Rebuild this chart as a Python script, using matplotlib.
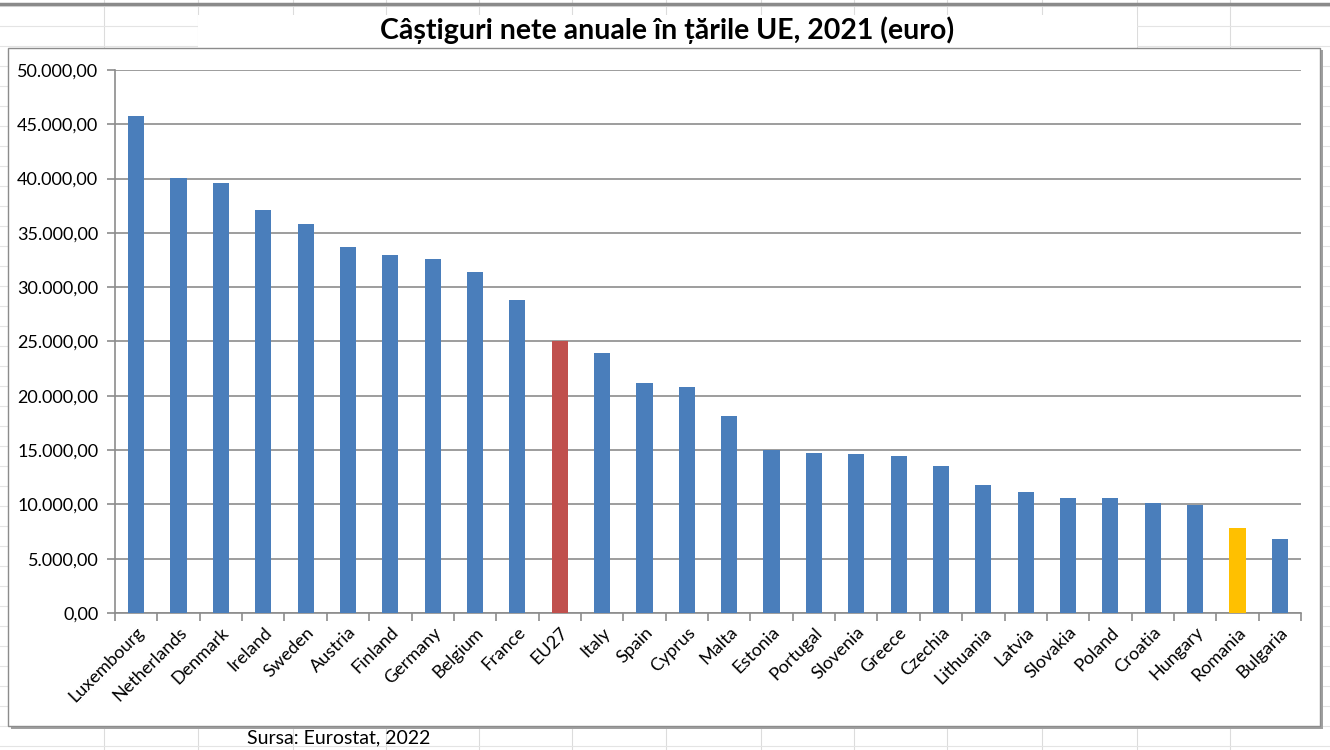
import matplotlib.pyplot as plt
from matplotlib.ticker import FuncFormatter, MultipleLocator
from matplotlib.lines import Line2D
from matplotlib.patches import Rectangle

plt.rcParams['font.family'] = ['Lato', 'DejaVu Sans']

tari = ['Luxembourg', 'Netherlands', 'Denmark', 'Ireland', 'Sweden', 'Austria',
        'Finland', 'Germany', 'Belgium', 'France', 'EU27', 'Italy', 'Spain',
        'Cyprus', 'Malta', 'Estonia', 'Portugal', 'Slovenia', 'Greece', 'Czechia',
        'Lithuania', 'Latvia', 'Slovakia', 'Poland', 'Croatia', 'Hungary',
        'Romania', 'Bulgaria']
castiguri = [45720, 40020, 39630, 37080, 35850, 33670, 33000, 32600, 31370, 28840,
             25000, 23930, 21220, 20790, 18150, 15000, 14750, 14630, 14500, 13580,
             11800, 11100, 10560, 10560, 10150, 9930, 7840, 6770]

albastru = '#4a7ebb'
culori = []
for t in tari:
    if t == 'EU27':
        culori.append('#c0504d')
    elif t == 'Romania':
        culori.append('#ffc000')
    else:
        culori.append(albastru)

fig = plt.figure(figsize=(13.3, 7.5), dpi=100)
W, H = 1330, 750

# fundalul de foaie de calcul
for x in [104, 198, 293, 386, 479, 572, 666, 761, 854, 947, 1042, 1137, 1230]:
    fig.add_artist(Line2D([x / W, x / W], [0, 1], color='#dcdcdc', lw=0.8, zorder=0))
for y in range(6, 750, 20):
    fig.add_artist(Line2D([0, 1], [1 - y / H, 1 - y / H], color='#e4e4e4', lw=0.8, zorder=0))
fig.add_artist(Line2D([0, 1], [1 - 4 / H, 1 - 4 / H], color='#8a8a8a', lw=2.5, zorder=1))
# caseta titlului
fig.add_artist(Rectangle((198 / W, 1 - 48 / H), (1137 - 198) / W, 33 / H,
                         facecolor='white', edgecolor='none', zorder=1))
# chenarul graficului cu umbra
fig.add_artist(Rectangle((11 / W, 1 - 729 / H), (1322 - 10) / W, (729 - 50) / H,
                         facecolor='#a0a0a0', edgecolor='none', zorder=1))
fig.add_artist(Rectangle((8 / W, 1 - 726 / H), (1320 - 8) / W, (726 - 48) / H,
                         facecolor='white', edgecolor='#8c8c8c', lw=1, zorder=2))

ax = fig.add_axes([115 / W, 1 - 613 / H, (1301 - 115) / W, (613 - 70) / H], zorder=3)
ax.patch.set_alpha(0)

x = range(len(tari))
ax.bar(x, castiguri, width=0.38, color=culori, zorder=3)

ax.set_xlim(-0.5, len(tari) - 0.5)
ax.set_ylim(0, 50000)
ax.yaxis.set_major_locator(MultipleLocator(5000))
ax.yaxis.set_major_formatter(FuncFormatter(
    lambda v, p: '{:,.2f}'.format(v).replace(',', ' ').replace('.', ',').replace(' ', '.')))
ax.grid(axis='y', color='#8c8c8c', lw=1.2, zorder=1)

ax.set_xticks(list(x))
ax.set_xticklabels(tari, rotation=45, ha='right', rotation_mode='anchor', fontsize=13)
ax.tick_params(axis='x', which='major', length=0, pad=8)
ax.set_xticks([i + 0.5 for i in range(-1, len(tari))], minor=True)
ax.tick_params(axis='x', which='minor', length=6, color='#8c8c8c', width=1.2)
ax.tick_params(axis='y', length=6, color='#8c8c8c', width=1.2, labelsize=13, pad=6)

for s in ['top', 'right']:
    ax.spines[s].set_visible(False)
for s in ['left', 'bottom']:
    ax.spines[s].set_color('#8c8c8c')
    ax.spines[s].set_linewidth(1.2)

fig.text(667 / W, 1 - 30 / H, 'Câștiguri nete anuale în țările UE, 2021 (euro)',
         ha='center', va='center', fontsize=20.5, fontweight='bold', zorder=5)
fig.text(247 / W, 1 - 738 / H, 'Sursa: Eurostat, 2022', ha='left', va='center',
         fontsize=14, zorder=5)

plt.savefig('out.png', dpi=100)
